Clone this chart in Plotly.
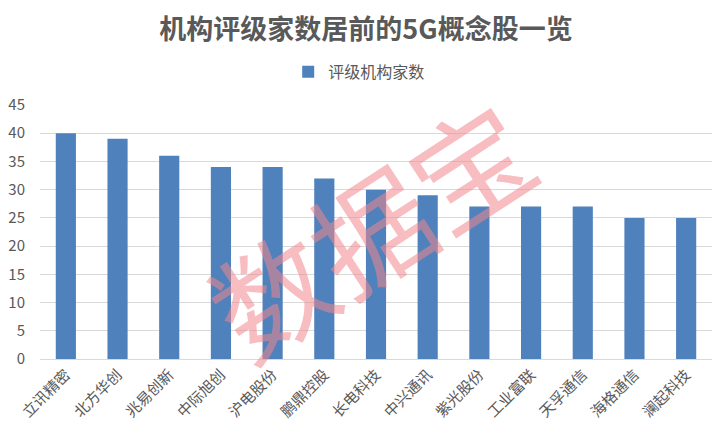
import plotly.graph_objects as go

categories = ["立讯精密", "北方华创", "兆易创新", "中际旭创", "沪电股份", "鹏鼎控股", "长电科技",
              "中兴通讯", "紫光股份", "工业富联", "天孚通信", "海格通信", "澜起科技"]
values = [40, 39, 36, 34, 34, 32, 30, 29, 27, 27, 27, 25, 25]
y_ticks = [0, 5, 10, 15, 20, 25, 30, 35, 40, 45]

font_family = "Noto Sans CJK SC, Microsoft YaHei, sans-serif"

fig = go.Figure()
fig.add_trace(go.Bar(
    x=categories, y=values, name="评级机构家数",
    marker=dict(color="#4f81bd", line=dict(width=0)),
    width=0.39,
))

# page body has an 8px default margin, so the figure is sized to fit the window
fig.update_layout(
    width=716, height=426,
    margin=dict(l=32, r=12, t=97, b=75),
    paper_bgcolor="white", plot_bgcolor="white",
    font=dict(family=font_family, color="#595959"),
    title=dict(text="<b>机构评级家数居前的5G概念股一览</b>", x=0.5, xanchor="center",
               y=0.95, yanchor="middle",
               font=dict(size=27, color="#595959", family=font_family)),
    showlegend=True,
    legend=dict(orientation="h", x=0.475, xanchor="center", yref="container",
                y=0.85, yanchor="middle",
                font=dict(size=16, color="#595959"), itemwidth=30),
    xaxis=dict(tickangle=-45, tickfont=dict(size=15, color="#595959"),
               showline=True, linecolor="#d9d9d9", ticks="", range=[-0.5, 12.5],
               automargin=False),
    yaxis=dict(range=[0, 45], tickvals=y_ticks, showgrid=True, gridcolor="#d9d9d9",
               gridwidth=1, zeroline=False, tickfont=dict(size=15, color="#595959"),
               ticks="", ticklabelstandoff=14, automargin=False),
)

fig.add_annotation(
    text="数据宝", x=0.49, y=0.52, xref="paper", yref="paper",
    showarrow=False, textangle=-33,
    font=dict(size=118, color="rgba(240,135,140,0.55)", family=font_family),
)

fig.write_html("out.html")
